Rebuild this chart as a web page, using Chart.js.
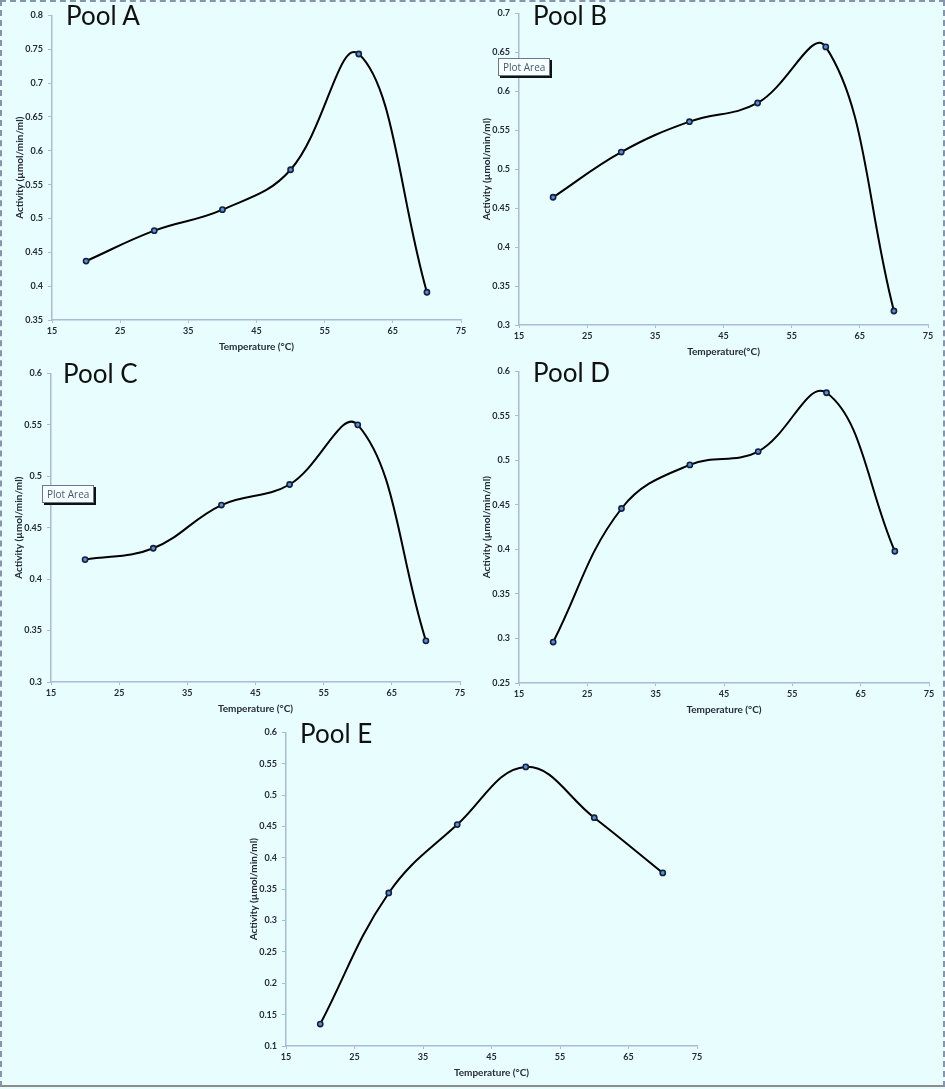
<!DOCTYPE html>
<html>
<head>
<meta charset="utf-8">
<script src="https://cdn.jsdelivr.net/npm/chart.js@4"></script>
<style>
  html, body { margin: 0; padding: 0; }
  body { width: 945px; height: 1089px; position: relative; overflow: hidden; background: #e8fdfd; }
  #frame { position: absolute; left: 0; top: 0; width: 941px; height: 1083px; border: 2px dashed #8893ad; border-bottom: 2px solid #8c8c8c; }
  canvas { position: absolute; }
  .pool { position: absolute; font-family: Lato, "Open Sans", sans-serif; font-size: 26px; line-height: 26px; color: #111; white-space: pre; }
  .tip { position: absolute; font-family: "Open Sans", sans-serif; font-size: 10px; color: #4a5570; background: #f6ffff;
         border: 1px solid #6d7690; padding: 1px 4px; box-shadow: 2px 2px 0 #111; }
</style>
</head>
<body>
<div id="frame"></div>

<script>
// temperatures (°C) measured for every pool
const temperatures = [20, 30, 40, 50, 60, 70];

// activity (µmol/min/ml)
const poolA = [0.437, 0.482, 0.513, 0.572, 0.743, 0.391];
const poolB = [0.464, 0.522, 0.561, 0.585, 0.657, 0.318];
const poolC = [0.419, 0.430, 0.472, 0.492, 0.550, 0.340];
const poolD = [0.296, 0.446, 0.495, 0.510, 0.576, 0.398];
const poolE = [0.135, 0.344, 0.453, 0.545, 0.464, 0.376];

// axis ranges
const xTicks = [15, 25, 35, 45, 55, 65, 75];
const yRanges = {
  A: [0.35, 0.8],
  B: [0.3, 0.7],
  C: [0.3, 0.6],
  D: [0.25, 0.6],
  E: [0.1, 0.6]
};

const yTitle = "Activity (µmol/min/ml)";

// panel placement on the page (plot area)
const paneles = [
  { nombre: "Pool A", datos: poolA, rango: yRanges.A, xTitulo: "Temperature (°C)", left: 52, top: 15, w: 409, h: 305, tx: 66, ty: 2 },
  { nombre: "Pool B", datos: poolB, rango: yRanges.B, xTitulo: "Temperature(°C)", left: 519, top: 13, w: 409, h: 312, tx: 533, ty: 2 },
  { nombre: "Pool C", datos: poolC, rango: yRanges.C, xTitulo: "Temperature (°C)", left: 51, top: 373, w: 409, h: 309, tx: 63, ty: 360 },
  { nombre: "Pool D", datos: poolD, rango: yRanges.D, xTitulo: "Temperature (°C)", left: 519, top: 371, w: 410, h: 312, tx: 533, ty: 359 },
  { nombre: "Pool E", datos: poolE, rango: yRanges.E, xTitulo: "Temperature (°C)", left: 286, top: 732, w: 411, h: 314, tx: 300, ty: 720 }
];

const colorEje = "#aabbd6";
const colorTexto = "#262b38";
const fuenteTicks = { family: "Lato, 'Open Sans', sans-serif", size: 9, weight: "bold" };

function crearPanel(p) {
  const canvas = document.createElement("canvas");
  const cw = p.w + 52 + 16;
  const ch = p.h + 10 + 40;
  canvas.width = cw;
  canvas.height = ch;
  canvas.style.left = (p.left - 52) + "px";
  canvas.style.top = (p.top - 10) + "px";
  canvas.style.width = cw + "px";
  canvas.style.height = ch + "px";
  document.body.appendChild(canvas);

  const titulo = document.createElement("div");
  titulo.className = "pool";
  titulo.textContent = p.nombre;
  titulo.style.left = p.tx + "px";
  titulo.style.top = p.ty + "px";
  document.body.appendChild(titulo);

  const puntos = temperatures.map((t, i) => ({ x: t, y: p.datos[i] }));

  new Chart(canvas.getContext("2d"), {
    type: "scatter",
    data: {
      datasets: [{
        data: puntos,
        showLine: true,
        borderColor: "#000",
        borderWidth: 2,
        tension: 0.4,
        pointRadius: 2.6,
        pointBackgroundColor: "#5b8fd9",
        pointBorderColor: "#14203c",
        pointBorderWidth: 1.6
      }]
    },
    options: {
      responsive: false,
      animation: false,
      devicePixelRatio: 1,
      layout: { padding: { top: 10, right: 16, left: 0, bottom: 0 } },
      plugins: { legend: { display: false }, tooltip: { enabled: false } },
      scales: {
        x: {
          type: "linear",
          min: xTicks[0],
          max: xTicks[xTicks.length - 1],
          afterBuildTicks: s => { s.ticks = xTicks.map(v => ({ value: v })); },
          afterFit: s => { s.height = 40; },
          border: { color: colorEje, width: 1.5 },
          grid: { drawOnChartArea: false, drawTicks: true, tickLength: 3, color: colorEje },
          ticks: { color: colorTexto, font: fuenteTicks, padding: 3, maxRotation: 0 },
          title: { display: true, text: p.xTitulo, color: colorTexto, font: { family: "Lato, sans-serif", size: 10, weight: "bold" }, padding: { top: 0, bottom: 7 } }
        },
        y: {
          min: p.rango[0],
          max: p.rango[1],
          ticks: {
            stepSize: 0.05,
            color: colorTexto,
            font: fuenteTicks,
            padding: 5,
            callback: v => String(+v.toFixed(2))
          },
          afterFit: s => { s.width = 52; },
          border: { color: colorEje, width: 1.5 },
          grid: { drawOnChartArea: false, drawTicks: true, tickLength: 4, color: colorEje },
          title: { display: true, text: yTitle, color: colorTexto, font: { family: "Lato, sans-serif", size: 10, weight: "bold" }, padding: { top: 14, bottom: 0 } }
        }
      }
    }
  });
}

paneles.forEach(crearPanel);

// Excel "Plot Area" hover labels left in the original screenshot
[{ x: 498, y: 58 }, { x: 42, y: 485 }].forEach(pos => {
  const tip = document.createElement("div");
  tip.className = "tip";
  tip.textContent = "Plot Area";
  tip.style.left = pos.x + "px";
  tip.style.top = pos.y + "px";
  document.body.appendChild(tip);
});
</script>
</body>
</html>
